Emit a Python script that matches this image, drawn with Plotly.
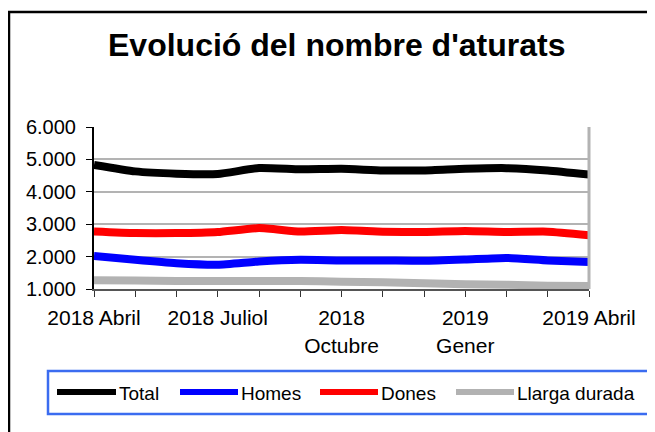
import plotly.graph_objects as go

months = ["2018 Abril", "2018 Maig", "2018 Juny", "2018 Juliol", "2018 Agost", "2018 Setembre",
          "2018 Octubre", "2018 Novembre", "2018 Desembre", "2019 Gener", "2019 Febrer",
          "2019 Març", "2019 Abril"]
tick_labels = ["2018 Abril", "", "", "2018 Juliol", "", "", "2018<br>Octubre", "", "",
               "2019<br>Gener", "", "", "2019 Abril"]
y_ticks = [1000, 2000, 3000, 4000, 5000, 6000]

total = [4830, 4630, 4560, 4550, 4735, 4695, 4710, 4660, 4660, 4710, 4730, 4660, 4530]
homes = [2020, 1900, 1795, 1750, 1850, 1900, 1880, 1880, 1870, 1910, 1960, 1880, 1830]
dones = [2775, 2725, 2725, 2760, 2880, 2775, 2820, 2770, 2760, 2790, 2760, 2770, 2660]
llarga = [1270, 1260, 1250, 1245, 1250, 1245, 1225, 1205, 1175, 1150, 1135, 1100, 1090]

series_names = ["Total", "Homes", "Dones", "Llarga durada"]
series_values = [total, homes, dones, llarga]
series_colors = ["#000000", "#0000FF", "#FF0000", "#B2B2B2"]

FONT = "Liberation Sans, Arial, sans-serif"

# The page has an 8px body margin, so the figure is drawn 8px smaller
W, H = 647, 424
L, R, T, B = 86, 66, 119, 143
PW, PH = W - L - R, H - T - B


def px(xp):  # page x -> paper
    return (xp - 8 - L) / PW


def py(yp):  # page y -> paper
    return (H - B - (yp - 8)) / PH


x = list(range(len(months)))
fig = go.Figure()
for name, vals, col in zip(series_names, series_values, series_colors):
    fig.add_trace(go.Scatter(x=x, y=vals, name=name, mode="lines",
                             line=dict(color=col, width=8, shape="spline", smoothing=0.5),
                             customdata=months, showlegend=False,
                             hovertemplate="%{customdata}: %{y}<extra></extra>"))

fig.update_layout(
    width=W, height=H,
    margin=dict(l=L, r=R, t=T, b=B),
    paper_bgcolor="white", plot_bgcolor="white",
    separators=",.",
    font=dict(family=FONT, color="black", size=20),
    showlegend=False,
)
fig.update_xaxes(range=[0, 12], tickmode="array", tickvals=x, ticktext=tick_labels,
                 ticks="outside", ticklen=6, tickcolor="#333333", showline=True,
                 linecolor="#555555", linewidth=2, showgrid=False, zeroline=False,
                 tickfont=dict(size=21), tickangle=0, ticklabelstandoff=3)
fig.update_yaxes(range=[1000, 6000], tickvals=y_ticks,
                 tickformat=",d", ticks="outside", ticklen=6, tickcolor="black",
                 showline=True, linecolor="black", linewidth=2, showgrid=True,
                 gridcolor="#B3B3B3", gridwidth=2, zeroline=False, tickfont=dict(size=20),
                 ticklabelstandoff=6)

# title
fig.add_annotation(text="<b>Evolució del nombre d'aturats</b>", xref="paper", yref="paper",
                   x=px(336), y=py(45), xanchor="center", yanchor="middle", showarrow=False,
                   font=dict(size=32, family=FONT, color="black"))

# right border of plot area
fig.add_shape(type="line", xref="paper", yref="paper", x0=1, x1=1, y0=0, y1=1,
              line=dict(color="#B3B3B3", width=3))
# outer chart border
fig.add_shape(type="rect", xref="paper", yref="paper", x0=px(9), x1=px(652),
              y0=py(460), y1=py(12), line=dict(color="black", width=2.5))

# legend
fig.add_shape(type="rect", xref="paper", yref="paper", x0=px(48), x1=px(649),
              y0=py(414), y1=py(371), line=dict(color="#3B6CF0", width=2.5))
sample_x = [(57, 116), (180, 238), (320, 378), (456, 514)]
for (a, b), name, col in zip(sample_x, series_names, series_colors):
    fig.add_shape(type="line", xref="paper", yref="paper", x0=px(a), x1=px(b),
                  y0=py(392), y1=py(392), line=dict(color=col, width=6))
    fig.add_annotation(text=name, xref="paper", yref="paper", x=px(b + 1), y=py(393),
                       xanchor="left", yanchor="middle", showarrow=False,
                       font=dict(size=19, family=FONT, color="black"))
fig.write_html("out.html")
